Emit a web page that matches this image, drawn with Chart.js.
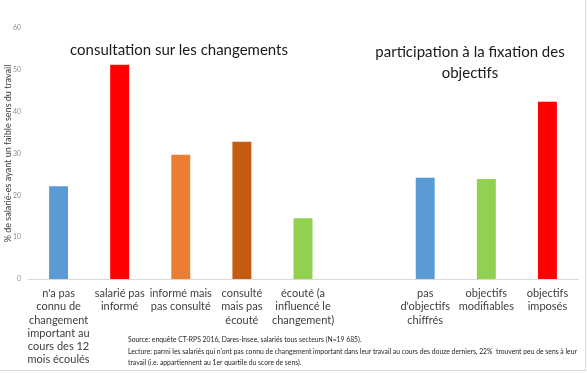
<!DOCTYPE html>
<html>
<head>
<meta charset="utf-8">
<script src="https://cdn.jsdelivr.net/npm/chart.js@4/dist/chart.umd.min.js"></script>
<style>
  body { margin: 0; background: #fff; font-family: Lato, "Open Sans", sans-serif; }
  #wrap { position: relative; width: 585px; height: 370px; border: 1px solid #d9d9d9; border-top: none; border-left: none; }
  canvas { position: absolute; left: 0; top: 0; }
  .title { position: absolute; font-size: 15px; color: #1a1a1a; text-align: center; line-height: 21px; white-space: nowrap; }
  #source { position: absolute; left: 128px; top: 334px; font-size: 6.8px; line-height: 11.5px; color: #262626; white-space: nowrap; }
</style>
</head>
<body>
<div id="wrap">
  <canvas id="myChart" width="587" height="373"></canvas>
  <div class="title" style="left:70px; top:39px; width:218px;">consultation sur les changements</div>
  <div class="title" style="left:360px; top:41px; width:220px;">participation à la fixation des<br>objectifs</div>
  <div id="source">Source: enquête CT-RPS 2016, Dares-Insee, salariés tous secteurs (N=19 685).<br>Lecture: parmi les salariés qui n'ont pas connu de changement important dans leur travail au cours des douze derniers, 22%&nbsp; trouvent peu de sens à leur<br>travail (i.e. appartiennent au 1er quartile du score de sens).</div>
</div>
<script>
const labels = [
  ["n'a pas", "connu de", "changement", "important au", "cours des 12", "mois écoulés"],
  ["salarié pas", "informé"],
  ["informé mais", "pas consulté"],
  ["consulté", "mais pas", "écouté"],
  ["écouté (a", "influencé le", "changement)"],
  "",
  ["pas", "d'objectifs", "chiffrés"],
  ["objectifs", "modifiables"],
  ["objectifs", "imposés"],
];
const values = [22.2, 51.2, 29.7, 32.8, 14.5, null, 24.2, 23.9, 42.4];
const colors = ["#5B9BD5", "#FF0000", "#ED7D31", "#C55A11", "#92D050", "#ffffff", "#5B9BD5", "#92D050", "#FF0000"];
const yTicks = [0, 10, 20, 30, 40, 50, 60];

var ctx = document.getElementById("myChart").getContext("2d");
const myChart = new Chart(ctx, {
  type: "bar",
  data: {
    labels: labels,
    datasets: [
      {
        label: "% de salarié-es",
        data: values,
        backgroundColor: colors,
        barPercentage: 0.31,
        categoryPercentage: 1,
      },
    ],
  },
  options: {
    responsive: false,
    animation: false,
    layout: { padding: { top: 28, right: 9, bottom: 0, left: 0 } },
    plugins: { legend: { display: false }, tooltip: { enabled: false } },
    scales: {
      x: {
        grid: { display: false, drawTicks: false },
        border: { display: true, color: "#d9d9d9" },
        ticks: {
          color: "#404040",
          font: { family: "Lato", size: 11 },
          padding: 8,
          maxRotation: 0,
          autoSkip: false,
        },
        afterFit: (scale) => { scale.height = 94; },
      },
      y: {
        min: 0,
        max: 60,
        grid: { display: false, drawTicks: false },
        border: { display: false },
        afterBuildTicks: (scale) => { scale.ticks = yTicks.map((v) => ({ value: v })); },
        ticks: { color: "#8c8c8c", font: { family: "Lato", size: 7 }, padding: 7 },
        title: {
          display: true,
          text: "% de salarié-es ayant un faible sens du travail",
          color: "#404040",
          font: { family: "Lato", size: 9 },
          padding: { top: 3, bottom: 0 },
        },
        afterFit: (scale) => { scale.width = 28; },
      },
    },
  },
});
</script>
</body>
</html>
